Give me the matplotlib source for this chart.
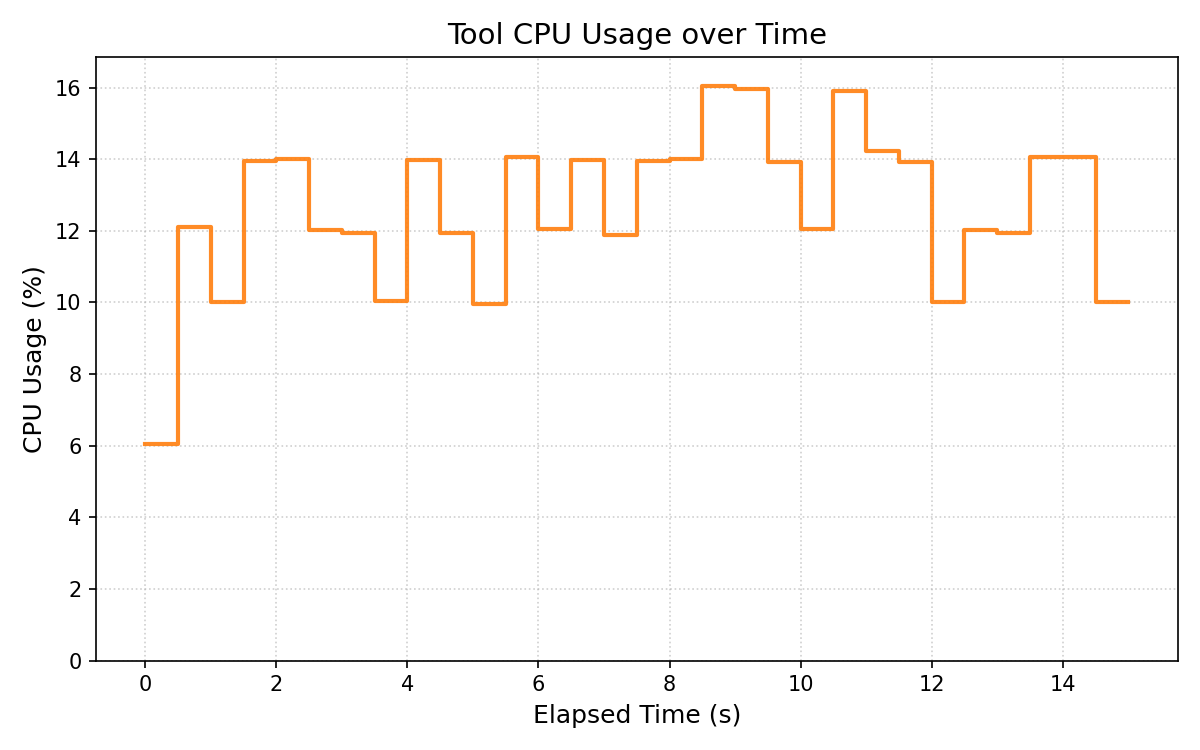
import numpy as np
import matplotlib
matplotlib.use("Agg")
import matplotlib.pyplot as plt

# Sampled CPU usage of the tool, every 0.5 s
elapsed_s = [0.0, 0.5, 1.0, 1.5, 2.0, 2.5, 3.0, 3.5, 4.0, 4.5,
             5.0, 5.5, 6.0, 6.5, 7.0, 7.5, 8.0, 8.5, 9.0, 9.5,
             10.0, 10.5, 11.0, 11.5, 12.0, 12.5, 13.0, 13.5, 14.0, 14.5, 15.0]
cpu_pct = [6.05, 12.1, 10.0, 13.95, 14.0, 12.02, 11.95, 10.05, 13.97, 11.93,
           9.97, 14.05, 12.05, 13.97, 11.87, 13.95, 14.0, 16.05, 15.95, 13.92,
           12.05, 15.9, 14.22, 13.92, 10.0, 12.02, 11.93, 14.05, 14.05, 10.0, 10.0]

fig, ax = plt.subplots(figsize=(8, 5), dpi=150)
ax.step(elapsed_s, cpu_pct, where="post", color="tab:orange", alpha=0.9, linewidth=2)
ax.set_ylim(0, max(cpu_pct) * 1.05)
ax.set_title("Tool CPU Usage over Time", fontsize=14)
ax.set_xlabel("Elapsed Time (s)", fontsize=12)
ax.set_ylabel("CPU Usage (%)", fontsize=12)
ax.grid(True, linestyle=":", alpha=0.6)
plt.tight_layout()
plt.savefig("out.png")
